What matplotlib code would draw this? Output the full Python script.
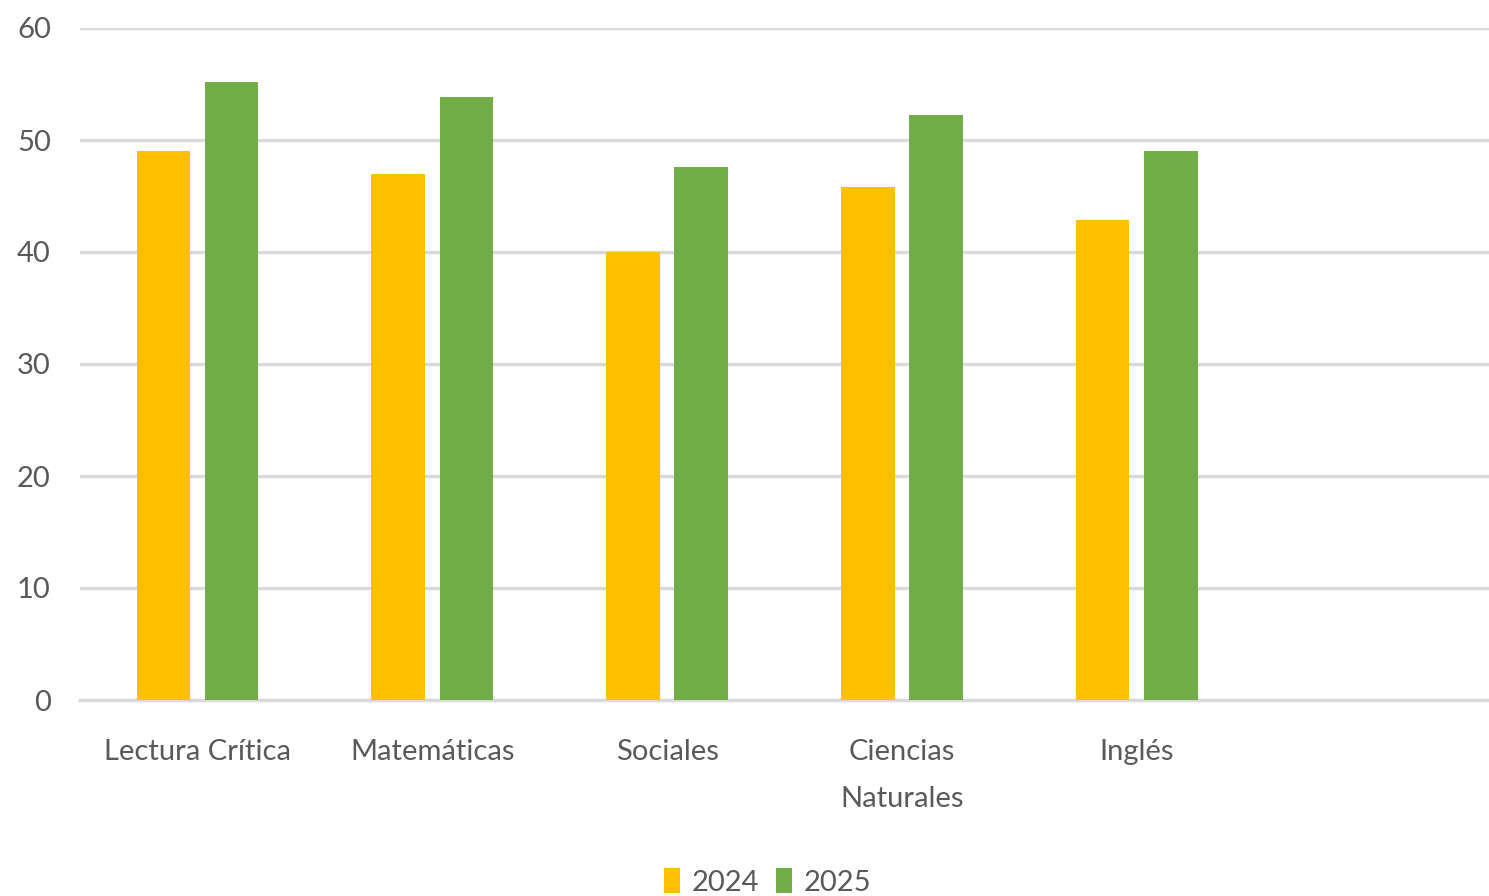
import matplotlib.pyplot as plt
import numpy as np

plt.rcParams['font.family'] = ['Lato', 'DejaVu Sans']

# datos
categorias = ["Lectura Crítica", "Matemáticas", "Sociales", "Ciencias\nNaturales", "Inglés", ""]
valores_2024 = [49.0, 47.0, 40.0, 45.8, 42.9]
valores_2025 = [55.2, 53.8, 47.6, 52.2, 49.0]

color_2024 = '#FFC000'
color_2025 = '#70AD47'
gris_texto = '#595959'

fig = plt.figure(figsize=(14.89, 8.96), dpi=100)
ax = fig.add_axes([80 / 1489, 1 - 700 / 896, 1409 / 1489, 672 / 896])

x = np.arange(len(valores_2024))
ancho = 0.228
ax.bar(x - 0.145, valores_2024, ancho, color=color_2024, label='2024', zorder=3)
ax.bar(x + 0.145, valores_2025, ancho, color=color_2025, label='2025', zorder=3)

ax.set_xlim(-0.5, 5.5)
ax.set_ylim(0, 60)
ax.set_yticks(range(0, 61, 10))
ax.set_xticks(range(len(categorias)))
ax.set_xticklabels(categorias, fontsize=21, color=gris_texto, linespacing=2.0)
ax.tick_params(axis='y', labelsize=21, labelcolor=gris_texto, length=0, pad=21)
ax.tick_params(axis='x', length=0, pad=28)

ax.grid(axis='y', color='#D9D9D9', linewidth=2.5, zorder=0)
for lado in ['top', 'right', 'left']:
    ax.spines[lado].set_visible(False)
ax.spines['bottom'].set_color('#D9D9D9')
ax.spines['bottom'].set_linewidth(2.5)

ax.legend(loc='lower center', bbox_to_anchor=(0.488, -0.33), ncol=2, frameon=False,
          fontsize=21, labelcolor=gris_texto, handlelength=0.55, handleheight=0.9,
          handletextpad=0.4, columnspacing=0.6)

plt.savefig('out.png', dpi=100)
